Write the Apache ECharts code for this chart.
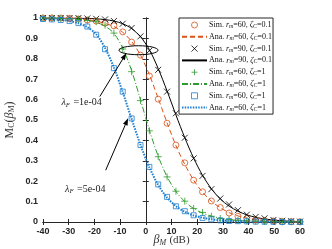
<!DOCTYPE html>
<html><head><meta charset="utf-8">
<script src="https://cdn.jsdelivr.net/npm/echarts@6/dist/echarts.min.js"></script>
<style>html,body{margin:0;padding:0;background:#fff}#c{width:332px;height:249px}</style>
</head><body><div id="c"></div>
<script>
// beta_M grid (dB): 30 points from -40 to 60
const betaM = [-40,-36.55,-33.1,-29.66,-26.21,-22.76,-19.31,-15.86,-12.41,-8.97,-5.52,-2.07,1.38,4.83,8.28,11.72,15.17,18.62,22.07,25.52,28.97,32.41,35.86,39.31,42.76,46.21,49.66,53.1,56.55,60];
// Sim./Ana. r_m=60, zeta_C=0.1 (orange)
const sim60c01 = [1.0,1.0,1.0,0.998,0.995,0.99,0.985,0.975,0.962,0.932,0.882,0.818,0.716,0.602,0.484,0.377,0.29,0.205,0.148,0.103,0.071,0.044,0.028,0.017,0.011,0.007,0.005,0.003,0.002,0.001];
const ana60c01 = [1.0,1.0,1.0,0.998,0.996,0.992,0.985,0.974,0.958,0.93,0.885,0.818,0.722,0.606,0.486,0.375,0.282,0.205,0.146,0.102,0.07,0.046,0.03,0.019,0.012,0.008,0.005,0.003,0.002,0.001];
// Sim./Ana. r_m=90, zeta_C=0.1 (black)
const sim90c01 = [1.0,1.0,1.0,1.0,1.0,0.998,0.996,0.993,0.985,0.972,0.951,0.91,0.84,0.746,0.639,0.533,0.413,0.312,0.226,0.161,0.115,0.086,0.058,0.036,0.025,0.018,0.01,0.006,0.004,0.002];
const ana90c01 = [1.0,1.0,1.0,1.0,0.999,0.998,0.996,0.992,0.985,0.972,0.948,0.908,0.845,0.752,0.642,0.525,0.413,0.313,0.229,0.163,0.113,0.078,0.053,0.035,0.023,0.015,0.01,0.006,0.004,0.002];
// Sim./Ana. r_m=60, zeta_C=1 (green), lambda_F = 1e-04
const sim60c1a = [1.0,1.0,0.998,0.996,0.993,0.988,0.982,0.965,0.926,0.848,0.737,0.595,0.447,0.32,0.221,0.151,0.102,0.066,0.047,0.028,0.017,0.012,0.008,0.006,0.004,0.003,0.002,0.001,0.001,0.001];
const ana60c1a = [1.0,1.0,0.999,0.997,0.994,0.989,0.979,0.96,0.925,0.852,0.742,0.599,0.451,0.322,0.222,0.15,0.1,0.066,0.044,0.029,0.019,0.012,0.008,0.005,0.004,0.003,0.002,0.001,0.001,0.001];
// Sim./Ana. r_m=60, zeta_C=1 (blue), lambda_F = 5e-04
const sim60c1b = [0.995,0.993,0.99,0.985,0.975,0.958,0.918,0.847,0.754,0.639,0.508,0.377,0.27,0.184,0.123,0.077,0.053,0.033,0.02,0.013,0.008,0.005,0.004,0.003,0.002,0.001,0.001,0.0,0.0,0.0];
const ana60c1b = [0.996,0.994,0.991,0.985,0.974,0.955,0.921,0.853,0.757,0.636,0.505,0.378,0.268,0.181,0.119,0.078,0.05,0.032,0.021,0.013,0.008,0.005,0.004,0.003,0.002,0.001,0.001,0.0,0.0,0.0];
const xTicks = [-40,-30,-20,-10,0,10,20,30,40,50,60];
const yTicks = [0,0.1,0.2,0.3,0.4,0.5,0.6,0.7,0.8,0.9,1];

const labels = {
  s60c01: ['Sim.','60','0.1'], a60c01: ['Ana.','60','0.1'],
  s90c01: ['Sim.','90','0.1'], a90c01: ['Ana.','90','0.1'],
  s60c1a: ['Sim.','60','1'],   a60c1a: ['Ana.','60','1'],
  s60c1b: ['Sim.','60','1'],   a60c1b: ['Ana.','60','1']
};
const ORANGE='#D95319', BLACK='#000000', GREEN='#2E9B2E', BLUE='#1F7FD0';
const pairs = v => betaM.map((x,i)=>[x,v[i]]);
const serif = 'Liberation Serif';
const X_PATH='path://M0,0L10,10M10,0L0,10', P_PATH='path://M5,0L5,10M0,5L10,5', S_PATH='path://M0,0L10,0L10,10L0,10Z', C_PATH='circle';

function sim(name, data, symbol, color, size){
  return {name, type:'scatter', data:pairs(data), symbol, symbolSize:size, symbolKeepAspect:true,
    itemStyle:{color:'rgba(0,0,0,0)', borderColor:color, borderWidth:1}, z:5, silent:true};
}
function ana(name, data, color, type, width){
  return {name, type:'line', data:pairs(data), smooth:0.3, symbol:'none', showSymbol:false,
    lineStyle:{color, type, width}, itemStyle:{color}, z:4, silent:true};
}
const chart = echarts.init(document.getElementById('c'), null, {renderer:'canvas'});
const axisCol = '#262626';
const legendIcons = {s60c01:C_PATH, s90c01:X_PATH, s60c1a:P_PATH, s60c1b:S_PATH};
const option = {
  animation:false,
  grid:{left:43, right:32, top:18, bottom:27, containLabel:false, outerBoundsMode:'none'},
  xAxis:[{type:'value', min:-40, max:60, interval:10,
    axisLine:{lineStyle:{color:axisCol}}, axisTick:{inside:true, length:3, lineStyle:{color:axisCol}},
    splitLine:{show:false},
    axisLabel:{color:axisCol, fontSize:9, fontFamily:'Liberation Sans', margin:5, fontWeight:'bold'},
    name:'{b|β}{s|M} {n|(dB)}', nameLocation:'middle', nameGap:11, nameMoveOverlap:false,
    nameTextStyle:{rich:{b:{fontFamily:serif, fontStyle:'italic', fontSize:12, color:'#333'}, s:{fontFamily:serif, fontStyle:'italic', fontSize:8, verticalAlign:'bottom', padding:[6,0,0,0], color:'#333'}, n:{fontFamily:serif, fontSize:11, color:'#333'}}}},
   {type:'value', min:-40, max:60, interval:10, position:'top',
    axisLine:{lineStyle:{color:axisCol}}, axisTick:{inside:true, length:3, lineStyle:{color:axisCol}}, axisLabel:{show:false}, splitLine:{show:false}}],
  yAxis:[{type:'value', min:0, max:1, interval:0.1,
    axisLine:{lineStyle:{color:axisCol}}, axisTick:{inside:true, length:3, lineStyle:{color:axisCol}},
    splitLine:{show:false},
    axisLabel:{color:axisCol, fontSize:9, fontFamily:'Liberation Sans', margin:5, fontWeight:'bold', formatter:v=>String(Math.round(v*10)/10)},
    name:'{n|M}{s|C}{n|(}{b|β}{s|M}{n|)}', nameLocation:'middle', nameGap:27, nameRotate:90, nameMoveOverlap:false,
    nameTextStyle:{rich:{n:{fontFamily:serif, fontSize:12, color:'#333'}, b:{fontFamily:serif, fontStyle:'italic', fontSize:12, color:'#333'}, s:{fontFamily:serif, fontSize:8, verticalAlign:'bottom', color:'#333'}}}},
   {type:'value', min:0, max:1, interval:0.1, position:'right',
    axisLine:{lineStyle:{color:axisCol}}, axisTick:{inside:true, length:3, lineStyle:{color:axisCol}}, axisLabel:{show:false}, splitLine:{show:false}}],
  legend:{orient:'vertical', left:179, top:18, itemWidth:25, itemHeight:6, itemGap:3.3,
    padding:[3,1,2,2], backgroundColor:'#fff', borderColor:axisCol, borderWidth:1,
    data:Object.keys(labels).map(k=> legendIcons[k] ? {name:k, icon:legendIcons[k], itemStyle:{borderWidth:1}} : {name:k, itemStyle:{color:'rgba(0,0,0,0)', borderColor:'rgba(0,0,0,0)', borderWidth:0}}),
    formatter:k=>{const l=labels[k]; return '{n|'+l[0]+' }{i|r}{s|m}{n|='+l[1]+', }{i|ζ}{s|C}{n|='+l[2]+'}';},
    textStyle:{padding:[0,0,0,-3], rich:{n:{fontFamily:serif, fontSize:8, color:'#111', lineHeight:9},
      i:{fontFamily:serif, fontStyle:'italic', fontSize:8, color:'#111', lineHeight:9},
      s:{fontFamily:serif, fontStyle:'italic', fontSize:6, color:'#111', lineHeight:9, verticalAlign:'bottom'}}}},
  series:[
    sim('s60c01', sim60c01, 'circle', ORANGE, 6),
    ana('a60c01', ana60c01, ORANGE, [5,3], 1),
    sim('s90c01', sim90c01, X_PATH, BLACK, 6),
    ana('a90c01', ana90c01, BLACK, 'solid', 1),
    sim('s60c1a', sim60c1a, P_PATH, GREEN, 7),
    ana('a60c1a', ana60c1a, GREEN, [6,2,1,2], 1),
    sim('s60c1b', sim60c1b, S_PATH, BLUE, 5),
    ana('a60c1b', ana60c1b, BLUE, [1.5,1.2], 2)
  ]
};
chart.setOption(option);

// annotations (data coordinates)
const annEllipse = {cx:-2.84, cy:0.842, rx:7.6, ry:0.022};
const annArrows = [{from:[-17.9,0.615], to:[-7.55,0.828]}, {from:[-15.6,0.254], to:[-6.9,0.508]}];
const annTexts = [{at:[-32.8,0.585], sub:'1e-04'}, {at:[-31.4,0.162], sub:'5e-04'}];
const P = p => chart.convertToPixel({gridIndex:0}, p);
const g = [];
const c = P([annEllipse.cx, annEllipse.cy]);
const e1 = P([annEllipse.cx+annEllipse.rx, annEllipse.cy+annEllipse.ry]);
g.push({type:'ellipse', shape:{cx:c[0], cy:c[1], rx:Math.abs(e1[0]-c[0]), ry:Math.abs(e1[1]-c[1])}, style:{fill:'none', stroke:'#000', lineWidth:1}, z:10});
annArrows.forEach(a=>{
  const p0=P(a.from), p1=P(a.to);
  const dx=p1[0]-p0[0], dy=p1[1]-p0[1], L=Math.hypot(dx,dy), ux=dx/L, uy=dy/L;
  const hl=7, hw=2.5; const bx=p1[0]-ux*hl, by=p1[1]-uy*hl;
  g.push({type:'line', shape:{x1:p0[0], y1:p0[1], x2:bx, y2:by}, style:{stroke:'#000', lineWidth:1}, z:10});
  g.push({type:'polygon', shape:{points:[[p1[0],p1[1]],[bx-uy*hw,by+ux*hw],[bx+uy*hw,by-ux*hw]]}, style:{fill:'#000'}, z:10});
});
annTexts.forEach(t=>{
  const p=P(t.at);
  g.push({type:'text', x:p[0], y:p[1], style:{text:'{l|λ}{s|F} {n|='+t.sub+'}', verticalAlign:'middle', align:'left',
    rich:{l:{fontFamily:serif, fontStyle:'italic', fontSize:10, fill:'#222'}, s:{fontFamily:serif, fontStyle:'italic', fontSize:7, verticalAlign:'bottom', fill:'#222'}, n:{fontFamily:serif, fontSize:10, fill:'#222'}}}, z:10});
});
chart.setOption({graphic:g});
</script></body></html>
